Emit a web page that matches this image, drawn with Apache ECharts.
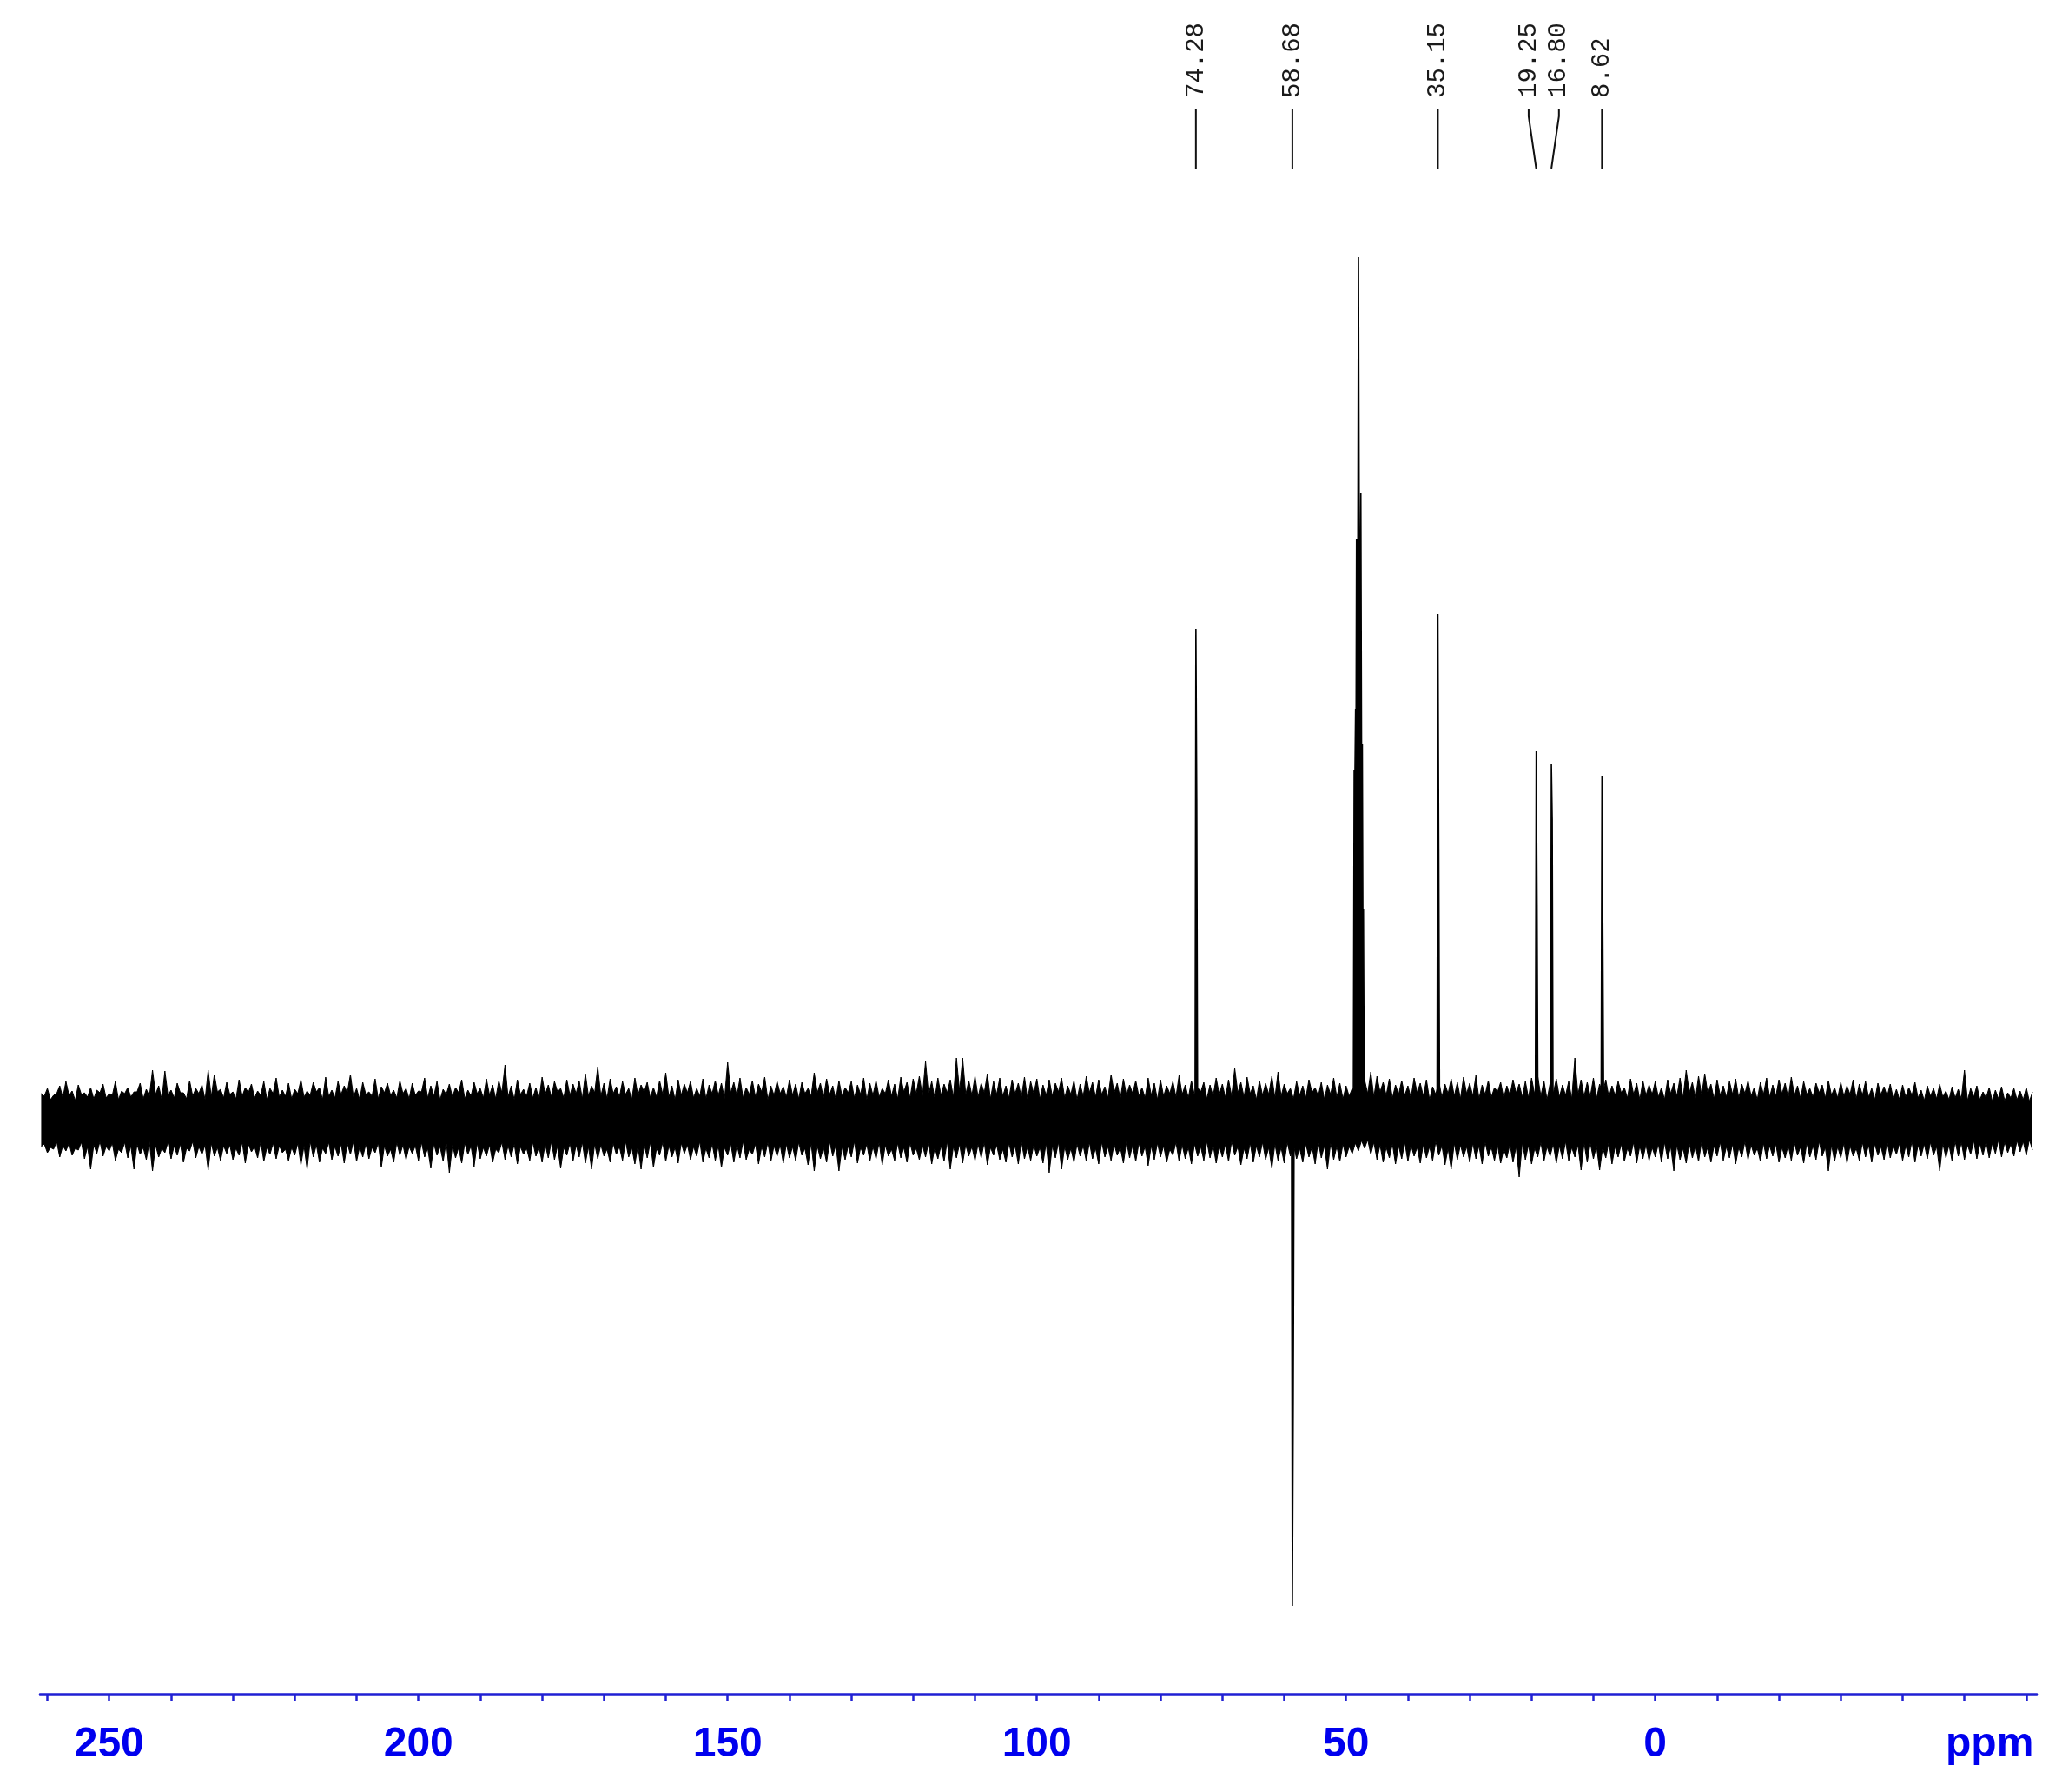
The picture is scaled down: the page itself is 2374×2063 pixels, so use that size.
<!DOCTYPE html>
<html>
<head>
<meta charset="utf-8">
<script src="https://cdn.jsdelivr.net/npm/echarts@6/dist/echarts.min.js"></script>
<style>
  html, body { margin: 0; padding: 0; background: #fff; }
  #spectrum { width: 2374px; height: 2063px; }
</style>
</head>
<body>
<div id="spectrum"></div>
<script>
// ppm range of the plot (left edge is high ppm)
var ppmLeft = 261.2;
var ppmRight = -61.7;

// axis ticks
var majorTicks = [250, 200, 150, 100, 50, 0, -50];
var minorTicks = [260, 250, 240, 230, 220, 210, 200, 190, 180, 170, 160, 150, 140, 130, 120, 110, 100,
  90, 80, 70, 60, 50, 40, 30, 20, 10, 0, -10, -20, -30, -40, -50, -60];

// picked peaks (labelled at the top)
var peakPpm = [74.28, 58.68, 35.15, 19.25, 16.80, 8.62];
var peakTop = [566, -559, 583, 426, 410, 397];
var peakShoulder = [370, -319, 313, 248, 347, 210];

// solvent multiplet (not labelled)
var solventPpm = [48.69, 48.46, 48.31, 47.99, 47.61, 47.37, 47.19];
var solventTop = [404, 474, 669, 994, 723, 433, 243];
var solventValley = [390, 455, 480, 490, 420, 230];

// noise: spike heights at every ppm from 261 down to -61 ...
var noiseStart = 261;
var noiseTop = [
  31,37,29,40,45,34,41,32,38,35,
  42,31,45,34,38,33,43,36,58,40,
  57,35,43,32,46,37,41,58,53,36,
  44,33,47,38,42,34,45,37,49,35,
  43,36,47,34,44,38,50,35,45,40,
  53,37,44,33,48,39,43,35,46,37,
  43,34,49,40,45,36,42,38,47,35,
  44,37,48,41,46,64,40,47,36,43,
  38,50,41,45,37,47,42,46,54,40,
  62,43,48,39,45,37,49,41,44,38,
  46,55,40,47,42,45,37,48,41,46,
  43,67,44,49,38,46,42,50,40,45,
  39,47,42,44,37,55,43,48,40,46,
  38,45,41,49,43,46,37,47,42,50,
  44,48,51,68,45,49,42,47,72,72,
  46,51,43,54,45,49,40,47,43,50,
  45,48,41,47,43,49,40,46,42,51,
  44,47,39,53,43,48,41,46,38,49,
  43,47,40,45,52,41,46,38,44,41,
  49,42,47,60,44,50,40,46,43,51,
  56,42,37,45,40,47,38,44,41,49,
  43,40,37,35,47,56,51,44,48,41,
  46,40,49,43,47,39,45,42,48,44,
  50,43,52,41,46,38,44,40,47,42,
  45,49,51,46,43,48,41,45,72,47,
  44,49,42,47,40,45,38,48,43,46,
  41,45,38,47,43,49,58,44,51,54,
  42,47,40,45,48,42,46,38,44,49,
  41,47,43,50,40,45,37,43,41,46,
  38,44,40,47,42,45,37,43,39,42,
  36,41,38,44,35,40,37,42,34,39,
  36,58,37,40,33,38,35,39,32,37,
  34,38,33
];
var noiseBottom = [
  -30,-37,-33,-42,-35,-40,-34,-44,-56,-38,
  -41,-35,-46,-37,-43,-56,-39,-45,-58,-42,
  -37,-44,-40,-48,-35,-43,-39,-57,-41,-46,
  -38,-45,-40,-49,-36,-43,-47,-39,-44,-37,
  -46,-40,-51,-56,-42,-48,-38,-45,-41,-49,
  -39,-47,-42,-44,-37,-54,-41,-48,-40,-45,
  -38,-46,-42,-55,-40,-47,-60,-43,-49,-39,
  -53,-44,-41,-48,-37,-45,-42,-50,-39,-46,
  -41,-48,-43,-45,-55,-40,-47,-42,-49,-56,
  -44,-41,-48,-39,-46,-42,-50,-56,-43,-54,
  -40,-47,-42,-49,-38,-45,-41,-48,-43,-46,
  -54,-40,-48,-43,-45,-39,-50,-42,-47,-41,
  -49,-43,-46,-40,-51,-58,-44,-48,-41,-58,
  -45,-42,-49,-40,-47,-44,-51,-41,-46,-43,
  -48,-40,-45,-42,-50,-44,-47,-56,-43,-49,
  -41,-46,-43,-51,-40,-45,-48,-42,-50,-44,
  -46,-41,-49,-60,-43,-56,-45,-48,-41,-47,
  -44,-50,-42,-46,-40,-49,-43,-47,-41,-52,
  -45,-42,-48,-40,-47,-44,-50,-41,-46,-43,
  -49,-42,-47,-40,-51,-44,-48,-42,-45,-55,
  -46,-49,-41,-44,-48,-42,-50,-43,-56,-45,
  -47,-42,-38,-35,-32,-39,-45,-48,-43,-50,
  -44,-47,-41,-49,-43,-46,-40,-51,-56,-45,
  -42,-48,-44,-50,-41,-46,-49,-43,-48,-65,
  -45,-50,-42,-47,-41,-49,-44,-46,-42,-57,
  -48,-44,-57,-43,-50,-42,-47,-41,-49,-44,
  -46,-42,-48,-44,-58,-45,-49,-43,-47,-42,
  -48,-41,-46,-43,-50,-42,-45,-40,-47,-44,
  -41,-48,-43,-46,-40,-49,-42,-45,-41,-58,
  -47,-43,-49,-41,-46,-42,-48,-40,-45,-43,
  -39,-46,-42,-48,-41,-44,-40,-58,-43,-47,
  -41,-45,-39,-44,-40,-43,-38,-42,-37,-41,
  -36,-40,-34
];
// ... and the solid core level between them (at every half ppm)
var noiseTopCore = [
  28,24,31,26,29,23,30,27,25,32, 26,29,24,31,27,33,25,28,30,24,
  29,26,32,25,28,31,24,27,33,26, 30,25,28,32,26,29,24,31,27,28,
  25,31,27,29,33,24,28,26,30,32, 27,24,30,28,25,32,29,26,31,25,
  29,33,26,28,24,30,27,32,25,28, 31,26,29,25,32,27,24,30,28,26,
  24,30,27,33,26,29,31,25,28,32, 28,25,31,27,30,24,29,33,26,27,
  30,27,24,29,32,26,28,25,31,29, 25,32,28,26,30,27,33,24,29,31,
  27,29,25,31,28,32,26,30,24,28, 32,26,30,24,29,27,31,28,25,33,
  26,31,28,30,25,29,32,27,34,30, 29,27,32,25,30,28,26,31,27,24,
  31,25,29,28,33,26,30,24,28,32, 27,30,26,32,25,29,31,28,26,29,
  24,28,31,27,30,26,29,33,25,28, 30,26,28,32,27,31,24,29,30,26,
  28,31,25,29,26,32,28,24,30,27, 25,28,30,26,31,27,33,29,26,30,
  29,26,32,28,24,30,27,31,28,25, 31,28,25,30,27,33,26,29,32,27,
  26,30,28,24,31,27,29,25,30,28, 28,25,31,27,29,32,26,30,24,29,
  30,27,24,31,28,26,32,25,29,31, 25,29,27,30,26,31,28,24,30,27,
  28,31,26,29,25,30,27,32,26,29, 26,28,30,25,29,27,24,30,28,25,
  24,27,29,26,23,28,25,27,24,26, 25,23,27,24,26,22,25,23,26,24,
  24,22
];
var noiseBottomCore = [
  -27,-31,-24,-29,-26,-32,-25,-30,-28,-24, -30,-26,-33,-25,-29,-27,-31,-24,-28,-32,
  -25,-29,-27,-32,-24,-30,-28,-26,-31,-29, -28,-32,-25,-27,-30,-24,-31,-26,-29,-33,
  -31,-26,-29,-24,-28,-32,-25,-30,-27,-26, -24,-30,-27,-31,-26,-29,-33,-25,-28,-30,
  -29,-25,-32,-27,-30,-24,-28,-31,-26,-29, -26,-31,-28,-33,-25,-29,-27,-30,-32,-25,
  -30,-27,-24,-29,-31,-26,-28,-25,-30,-27, -28,-33,-26,-30,-24,-31,-29,-27,-25,-32,
  -25,-29,-31,-26,-28,-30,-24,-32,-27,-29, -31,-26,-28,-24,-33,-27,-30,-25,-29,-28,
  -27,-30,-25,-32,-26,-29,-31,-24,-28,-30, -29,-24,-31,-27,-30,-25,-28,-33,-26,-31,
  -26,-32,-28,-25,-31,-29,-24,-30,-27,-28, -30,-27,-25,-31,-28,-33,-26,-29,-24,-30,
  -28,-31,-26,-29,-25,-30,-32,-27,-29,-25, -32,-25,-30,-27,-31,-24,-28,-26,-30,-29,
  -26,-29,-33,-25,-28,-31,-27,-30,-24,-28, -29,-27,-24,-30,-32,-26,-29,-25,-31,-27,
  -31,-25,-28,-32,-27,-30,-24,-29,-26,-30, -27,-30,-26,-23,-22,-25,-28,-31,-27,-29,
  -25,-28,-31,-27,-30,-24,-29,-32,-26,-28, -30,-26,-29,-25,-31,-28,-33,-27,-30,-25,
  -28,-32,-25,-30,-27,-29,-24,-31,-28,-26, -26,-29,-31,-24,-30,-27,-32,-25,-29,-28,
  -31,-27,-25,-30,-28,-32,-26,-29,-24,-30, -29,-25,-30,-27,-31,-24,-28,-32,-26,-29,
  -27,-31,-28,-25,-30,-26,-29,-24,-31,-28, -30,-26,-29,-32,-25,-28,-27,-30,-24,-29,
  -26,-29,-24,-28,-27,-25,-30,-26,-28,-24, -25,-28,-23,-27,-24,-26,-22,-25,-27,-23,
  -24,-22
];

var blue = '#2020d4';
var labelBlue = '#0000ee';
var pxPpm = 0.14; // about one pixel in ppm

var chart = echarts.init(document.getElementById('spectrum'));

// noise band: spikes standing on a solid core
function combData(values, cores) {
  var out = [];
  values.forEach(function (v, i) {
    var p = noiseStart - i;
    out.push([p, v]);
    if (i < cores.length) out.push([p - 0.5, cores[i]]);
  });
  return out;
}
var upData = combData(noiseTop, noiseTopCore);
var downData = combData(noiseBottom, noiseBottomCore);

// peak sticks, each drawn as top column + shoulder column
var peakData = [];
peakPpm.forEach(function (p, i) {
  peakData.push([p + pxPpm, 0], [p, peakTop[i]], [p - pxPpm, peakShoulder[i]], [p - 2 * pxPpm, 0], null);
});
peakData.push([solventPpm[0] + pxPpm, 0]);
solventPpm.forEach(function (p, i) {
  peakData.push([p, solventTop[i]]);
  if (i < solventPpm.length - 1) {
    peakData.push([(p + solventPpm[i + 1]) / 2, solventValley[i]]);
  }
});
peakData.push([solventPpm[solventPpm.length - 1] - pxPpm, 0]);

// spread crowded labels apart
function spreadLabels(list, gap) {
  var pos = list.slice();
  for (var it = 0; it < 50; it++) {
    for (var i = 0; i < pos.length - 1; i++) {
      var d = pos[i] - pos[i + 1];
      if (d < gap) {
        var s = (gap - d) / 2;
        pos[i] += s;
        pos[i + 1] -= s;
      }
    }
  }
  return pos;
}
var labelPos = spreadLabels(peakPpm, 4.9);
var labelData = peakPpm.map(function (p, i) { return [p, labelPos[i]]; });

var option = {
  backgroundColor: '#ffffff',
  animation: false,
  grid: [
    { left: 46, right: 29, top: 197, bottom: 113, outerBoundsMode: 'none' },
    { left: 46, right: 29, top: 20, height: 175, outerBoundsMode: 'none' },
    { left: 46, right: 29, top: 197, bottom: 113, outerBoundsMode: 'none' }
  ],
  xAxis: [
    {
      gridIndex: 0, type: 'value', min: ppmRight, max: ppmLeft, inverse: true,
      axisLine: { show: false },
      splitLine: { show: false },
      axisTick: { show: true, customValues: majorTicks, length: 23, lineStyle: { color: blue, width: 2.5 } },
      axisLabel: {
        customValues: majorTicks,
        margin: 35,
        formatter: function (v) { return v === -50 ? '{u|ppm}' : '{n|' + v + '}'; },
        rich: {
          n: { fontSize: 48, fontWeight: 'bold', fontFamily: '"Liberation Sans", Arial, sans-serif', color: labelBlue },
          u: { fontSize: 48, fontWeight: 'bold', fontFamily: '"Liberation Sans", Arial, sans-serif', color: labelBlue, padding: [0, 0, 0, 58] }
        }
      }
    },
    { gridIndex: 1, type: 'value', min: ppmRight, max: ppmLeft, inverse: true, show: false },
    {
      gridIndex: 2, type: 'value', min: ppmRight, max: ppmLeft, inverse: true,
      axisLine: { show: true, lineStyle: { color: blue, width: 2.5 } },
      splitLine: { show: false },
      axisTick: { show: true, customValues: minorTicks, length: 8, lineStyle: { color: blue, width: 2.5 } },
      axisLabel: { show: false }
    }
  ],
  yAxis: [
    { gridIndex: 0, type: 'value', min: -660, max: 1093, show: false },
    { gridIndex: 1, type: 'value', min: 0, max: 175, show: false },
    { gridIndex: 2, type: 'value', min: 0, max: 1, show: false }
  ],
  series: [
    {
      type: 'line', xAxisIndex: 0, yAxisIndex: 0, data: upData, showSymbol: false, silent: true,
      lineStyle: { color: '#000', width: 1 },
      areaStyle: { color: '#000', opacity: 1, origin: 0 }
    },
    {
      type: 'line', xAxisIndex: 0, yAxisIndex: 0, data: downData, showSymbol: false, silent: true,
      lineStyle: { color: '#000', width: 1 },
      areaStyle: { color: '#000', opacity: 1, origin: 0 }
    },
    {
      type: 'line', xAxisIndex: 0, yAxisIndex: 0, data: peakData, showSymbol: false, silent: true,
      connectNulls: false,
      lineStyle: { color: '#000', width: 1.6 },
      areaStyle: { color: '#000', opacity: 1, origin: 0 }
    },
    {
      type: 'custom', xAxisIndex: 1, yAxisIndex: 1, data: labelData, clip: false, silent: true,
      renderItem: function (params, api) {
        var p = api.value(0), l = api.value(1);
        var top = api.coord([l, 69]);
        var knee = api.coord([l, 61]);
        var bot = api.coord([p, 1]);
        var txt = api.coord([l, 82]);
        return {
          type: 'group',
          children: [
            {
              type: 'polyline',
              shape: { points: [top, knee, bot] },
              style: { stroke: '#111', lineWidth: 2, fill: null }
            },
            {
              type: 'text',
              x: txt[0], y: txt[1], rotation: Math.PI / 2,
              style: {
                text: p.toFixed(2),
                fill: '#1a1a1a',
                font: '29px "Liberation Mono", monospace',
                textAlign: 'left', textVerticalAlign: 'middle',
                align: 'left', verticalAlign: 'middle'
              }
            }
          ]
        };
      }
    }
  ]
};

chart.setOption(option);

window.addEventListener('resize', function () {
  chart.resize();
});
</script>
</body>
</html>
